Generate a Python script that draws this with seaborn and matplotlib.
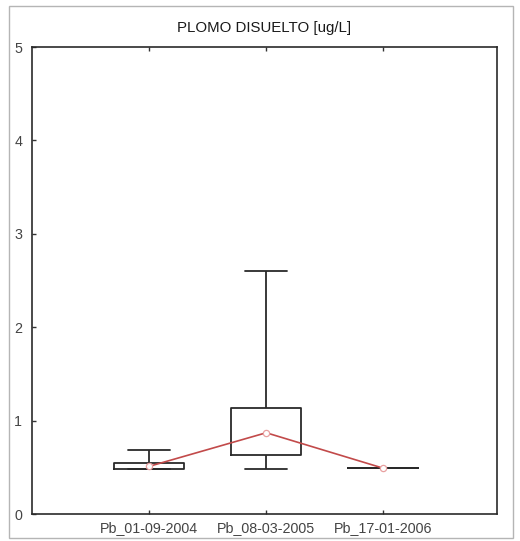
import numpy as np
import pandas as pd
import matplotlib
matplotlib.use("Agg")
import matplotlib.pyplot as plt
from matplotlib.patches import Rectangle
import seaborn as sns

# Sample dates (categories) and five-number summaries of dissolved lead [ug/L]
muestras = ["Pb_01-09-2004", "Pb_08-03-2005", "Pb_17-01-2006"]
pb_2004 = [0.48, 0.48, 0.51, 0.545, 0.69]
pb_2005 = [0.48, 0.63, 0.87, 1.135, 2.60]
pb_2006 = [0.49, 0.49, 0.49, 0.49, 0.49]
y_ticks = [0, 1, 2, 3, 4, 5]
titulo = "PLOMO DISUELTO [ug/L]"

df = pd.DataFrame({
    "muestra": np.repeat(muestras, 5),
    "valor": pb_2004 + pb_2005 + pb_2006,
})

sns.set_theme(style="white")
plt.rcParams["font.family"] = ["Liberation Sans", "DejaVu Sans"]

fig = plt.figure(figsize=(5.2, 5.41), dpi=100)
ax = fig.add_axes([0.0615, 0.0499, 0.8942, 0.8632])

# Boxes span min..max (whiskers at full range), no median line
sns.boxplot(
    data=df, x="muestra", y="valor", order=muestras,
    whis=(0, 100), width=0.6, fill=False, color="#2a2a2a",
    linewidth=1.3, showfliers=False,
    medianprops={"visible": False},
    capwidths=0.36,
    ax=ax,
)

# Median of each sample joined by a red line
sns.pointplot(
    data=df, x="muestra", y="valor", order=muestras,
    estimator="median", errorbar=None, color="#c24a4a",
    markers="o", markersize=4.5, linewidth=1.2,
    markerfacecolor="white", markeredgecolor="#e8a0a0",
    ax=ax,
)

ax.set_xlim(-1.0, 2.97)
ax.set_ylim(0, 5)
ax.set_yticks(y_ticks)
ax.set_xlabel("")
ax.set_ylabel("")
ax.set_title(titulo, fontsize=10.8, color="#1a1a1a", pad=11)

ax.tick_params(axis="both", direction="in", length=3, width=1,
               color="#333333", labelsize=10.3, labelcolor="#444444")
ax.tick_params(axis="x", top=True, bottom=True, pad=5)
ax.tick_params(axis="y", left=True, pad=7)

for s in ax.spines.values():
    s.set_visible(True)
    s.set_color("#2a2a2a")
    s.set_linewidth(1.2)

# Light outer frame around the whole figure
fig.patches.append(Rectangle((0.017, 0.0055), 0.97, 0.9835,
                             transform=fig.transFigure, fill=False,
                             edgecolor="#b5b5b5", linewidth=1.0))

fig.savefig("out.png", dpi=100)
